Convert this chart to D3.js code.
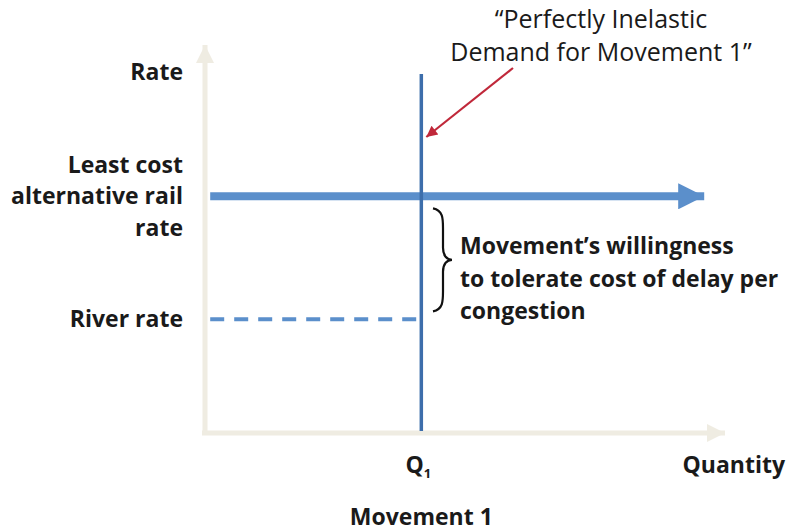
<!DOCTYPE html>
<html lang="en">
<head>
    <meta charset="UTF-8" />
    <script src="https://d3js.org/d3.v7.min.js"></script>
    <title>Perfectly Inelastic Demand</title>
    <style>
        body { margin: 0; background: #fff; }
        text { font-family: "Open Sans", Lato, sans-serif; fill: #1a1a1a; }
    </style>
</head>
<body>
<div id="my_chart"></div>
<script>
    // chart values (abstract units on 0..10 axes)
    var rateLabels = [["Least cost", "alternative rail", "rate"], ["River rate"]];
    var rateValues = [6.1, 2.93];
    var quantityLabel = "Q";
    var quantityValue = 4.16;
    var demandTop = 9.25;
    var braceNote = ["Movement\u2019s willingness", "to tolerate cost of delay per", "congestion"];
    var calloutText = ["\u201cPerfectly Inelastic", "Demand for Movement 1\u201d"];

    var width = 793, height = 531;
    var fs = 23; // bold label size

    const svg = d3.select("#my_chart").append("svg")
        .attr("width", width).attr("height", height);

    const x = d3.scaleLinear().domain([0, 10]).range([205, 725]);
    const y = d3.scaleLinear().domain([0, 10]).range([433, 45]);

    const defs = svg.append("defs");
    function marker(id, color, w, h) {
        defs.append("marker").attr("id", id)
            .attr("viewBox", "0 0 10 10").attr("refX", 10).attr("refY", 5)
            .attr("markerUnits", "userSpaceOnUse")
            .attr("markerWidth", w).attr("markerHeight", h)
            .attr("orient", "auto")
            .append("path").attr("d", "M0,0L10,5L0,10Z").attr("fill", color);
    }
    marker("axisHead", "#efece2", 18, 22);
    marker("railHead", "#5b8fcb", 30, 26);
    marker("redHead", "#c0283a", 14, 11);

    // axes
    svg.append("line")
        .attr("x1", x(0)).attr("y1", y(0) + 2)
        .attr("x2", x(0)).attr("y2", y(10))
        .attr("stroke", "#efece2").attr("stroke-width", 5)
        .attr("marker-end", "url(#axisHead)");
    svg.append("line")
        .attr("x1", x(0) - 3).attr("y1", y(0))
        .attr("x2", x(10)).attr("y2", y(0))
        .attr("stroke", "#efece2").attr("stroke-width", 5)
        .attr("marker-end", "url(#axisHead)");

    // river rate (dashed)
    svg.append("line")
        .attr("x1", x(0.1)).attr("y1", y(rateValues[1]))
        .attr("x2", x(quantityValue)).attr("y2", y(rateValues[1]))
        .attr("stroke", "#5b8fcb").attr("stroke-width", 4)
        .attr("stroke-dasharray", "14,10");

    // least cost rail rate arrow
    svg.append("line")
        .attr("x1", x(0.1)).attr("y1", y(rateValues[0]))
        .attr("x2", x(9.6)).attr("y2", y(rateValues[0]))
        .attr("stroke", "#5b8fcb").attr("stroke-width", 8)
        .attr("marker-end", "url(#railHead)");

    // demand line
    svg.append("line")
        .attr("x1", x(quantityValue)).attr("y1", y(0) - 2)
        .attr("x2", x(quantityValue)).attr("y2", y(demandTop))
        .attr("stroke", "#3d6eab").attr("stroke-width", 3.5);

    // callout arrow
    svg.append("line")
        .attr("x1", 513).attr("y1", 68)
        .attr("x2", x(quantityValue) + 5).attr("y2", 137)
        .attr("stroke", "#c0283a").attr("stroke-width", 2.2)
        .attr("marker-end", "url(#redHead)");

    svg.selectAll(".callout").data(calloutText).enter().append("text")
        .attr("x", 601).attr("y", (d, i) => 28 + i * 33)
        .attr("text-anchor", "middle").attr("font-size", 25)
        .attr("fill", "#333").text(d => d);

    // left labels
    svg.append("text").attr("x", 183).attr("y", 80)
        .attr("text-anchor", "end").attr("font-size", fs).attr("font-weight", "bold")
        .text("Rate");
    rateLabels.forEach((lines, k) => {
        var cy = y(rateValues[k]);
        var n = lines.length;
        lines.forEach((t, i) => {
            svg.append("text").attr("x", 183)
                .attr("y", cy + 8 + (i - (n - 1) / 2) * 31.5)
                .attr("text-anchor", "end").attr("font-size", fs).attr("font-weight", "bold")
                .text(t);
        });
    });

    // x labels
    var q = svg.append("text").attr("x", x(quantityValue) - 3).attr("y", 473)
        .attr("text-anchor", "middle").attr("font-size", fs).attr("font-weight", "bold");
    q.append("tspan").text(quantityLabel);
    q.append("tspan").attr("font-size", 13).attr("dy", 5).text("1");
    svg.append("text").attr("x", 785).attr("y", 473)
        .attr("text-anchor", "end").attr("font-size", fs).attr("font-weight", "bold")
        .text("Quantity");
    svg.append("text").attr("x", x(quantityValue)).attr("y", 525)
        .attr("text-anchor", "middle").attr("font-size", fs).attr("font-weight", "bold")
        .text("Movement 1");

    // brace between rail rate and river rate
    var b0 = y(rateValues[0]) + 12, b1 = y(rateValues[1]) - 8, bm = (b0 + b1) / 2, bx = 433;
    svg.append("path")
        .attr("d", `M${bx},${b0} C${bx + 10},${b0 + 2} ${bx + 10},${b0 + 10} ${bx + 10},${b0 + 20}
            L${bx + 10},${bm - 12} C${bx + 10},${bm - 4} ${bx + 14},${bm} ${bx + 19},${bm}
            C${bx + 14},${bm} ${bx + 10},${bm + 4} ${bx + 10},${bm + 12}
            L${bx + 10},${b1 - 20} C${bx + 10},${b1 - 10} ${bx + 10},${b1 - 2} ${bx},${b1}`)
        .attr("fill", "none").attr("stroke", "#111").attr("stroke-width", 2.2);

    svg.selectAll(".note").data(braceNote).enter().append("text")
        .attr("x", 460).attr("y", (d, i) => 254 + i * 32.5)
        .attr("font-size", fs).attr("font-weight", "bold")
        .text(d => d);
</script>
</body>
</html>
